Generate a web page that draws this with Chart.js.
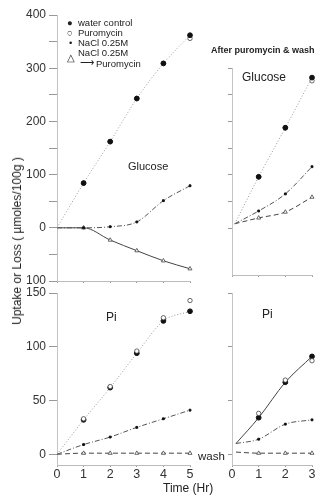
<!DOCTYPE html>
<html>
<head>
<meta charset="utf-8">
<script src="https://cdn.jsdelivr.net/npm/chart.js@4.4.1/dist/chart.umd.min.js"></script>
<style>
  html, body { margin: 0; padding: 0; background: #fff; }
  body { width: 323px; height: 496px; position: relative; overflow: hidden;
         font-family: "Liberation Sans", Arial, sans-serif; color: #222; }
  .box { position: absolute; }
  .txt { position: absolute; white-space: nowrap; line-height: 1; }
  .leg { font-size: 9.5px; }
</style>
</head>
<body>
<div class="box" style="left:0;top:0;width:200px;height:300px"><canvas id="gluLeft"></canvas></div>
<div class="box" style="left:0;top:280px;width:200px;height:216px"><canvas id="piLeft"></canvas></div>
<div class="box" style="left:200px;top:0;width:123px;height:290px"><canvas id="gluRight"></canvas></div>
<div class="box" style="left:200px;top:280px;width:123px;height:216px"><canvas id="piRight"></canvas></div>

<!-- legend -->
<div class="txt leg" style="left:67px;top:18px">●</div>
<div class="txt leg" style="left:78px;top:18px">water control</div>
<div class="txt leg" style="left:67px;top:28px">○</div>
<div class="txt leg" style="left:78px;top:28px">Puromycin</div>
<div class="txt leg" style="left:69px;top:38px">•</div>
<div class="txt leg" style="left:78px;top:38px">NaCl 0.25M</div>
<div class="txt leg" style="left:67px;top:53px">△</div>
<div class="txt leg" style="left:78px;top:48px">NaCl 0.25M</div>
<div class="txt leg" style="left:80px;top:58px">⟶</div>
<div class="txt leg" style="left:96px;top:59px">Puromycin</div>

<div class="txt" style="left:128px;top:161px;font-size:11px">Glucose</div>
<div class="txt" style="left:211px;top:46px;font-size:9px;font-weight:bold">After puromycin &amp; wash</div>
<div class="txt" style="left:242px;top:71px;font-size:12px">Glucose</div>
<div class="txt" style="left:106px;top:311px;font-size:12px">Pi</div>
<div class="txt" style="left:262px;top:308px;font-size:12px">Pi</div>
<div class="txt" style="left:198px;top:451px;font-size:11.5px">wash</div>
<div class="txt" style="left:163px;top:482px;font-size:12px">Time (Hr)</div>
<div class="txt" style="left:17px;top:241px;font-size:12px;transform:translate(-50%,-50%) rotate(-90deg)">Uptake or Loss ( µmoles/100g )</div>

<script>
// time points
const hours = [0, 1, 2, 3, 4, 5];
const washGluHours = [0.1, 1, 2, 3];
const washPiHours = [0.15, 1, 2, 3];

// glucose, left panel (umoles/100g)
const gluWater = [0, 84, 162, 243, 309, 362];
const gluPuro = [0, 84, 162, 243, 309, 356];
const gluNacl = [0, 0, 2, 11, 51, 79];
const gluNaclPuro = [0, 0, -23, -43, -62, -77];

// Pi, left panel
const piWater = [0, 32, 62, 94, 124, 133];
const piPuro = [0, 33, 63, 96, 127, 143];
const piNacl = [0, 9, 16, 25, 33, 41];
const piNaclPuro = [0, 1, 1, 1, 1, 1];

// glucose, after puromycin & wash
const wGluWater = [8, 96, 188, 282];
const wGluPuro = [8, 96, 188, 276];
const wGluNacl = [8, 32, 64, 115];
const wGluNaclPuro = [8, 19, 30, 58];

// Pi, after puromycin & wash
const wPiWater = [10, 34, 67, 91];
const wPiPuro = [10, 38, 69, 87];
const wPiNacl = [10, 14, 28, 32];
const wPiNaclPuro = [2, 1, 1, 1];

// tick values
const gluTicks = [-100, -50, 0, 50, 100, 150, 200, 250, 300, 350, 400];
const gluWashTicks = [0, 50, 100, 150, 200, 250, 300];
const piTicks = [0, 50, 100, 150];
const leftHourTicks = [0, 1, 2, 3, 4, 5];
const rightHourTicks = [0, 1, 2, 3];

Chart.defaults.font.family = "'Liberation Sans', Arial, sans-serif";
Chart.defaults.color = "#333";

function pts(xs, ys) {
  return xs.map((x, i) => ({ x: x, y: ys[i] }));
}

// first point of each series is only the line origin
function radius(r) {
  return (ctx) => (ctx.dataIndex === 0 ? 0 : r);
}

function series(xs, ys, kind, order) {
  const base = {
    data: pts(xs, ys),
    borderWidth: 1,
    clip: false,
    cubicInterpolationMode: "monotone",
    order: order
  };
  if (kind === "water") {
    return Object.assign(base, {
      borderColor: "#999", borderDash: [1, 2],
      pointStyle: "circle", pointRadius: radius(2.4), pointBorderWidth: 1,
      pointBackgroundColor: "#111", pointBorderColor: "#111"
    });
  }
  if (kind === "puro") {
    return Object.assign(base, {
      showLine: false,
      pointStyle: "circle", pointRadius: radius(2.2), pointBorderWidth: 0.8,
      pointBackgroundColor: "#fff", pointBorderColor: "#444"
    });
  }
  if (kind === "nacl") {
    return Object.assign(base, {
      borderColor: "#555", borderDash: [5, 2, 1, 2],
      pointStyle: "rect", pointRadius: radius(1.3),
      pointBackgroundColor: "#111", pointBorderColor: "#111"
    });
  }
  return Object.assign(base, {
    borderColor: "#444", borderDash: kind === "triDash" ? [5, 3] : [],
    pointStyle: "triangle", pointRadius: radius(2.3), pointBorderWidth: 0.8,
    pointBackgroundColor: "#fff", pointBorderColor: "#444"
  });
}

function yAxis(min, max, ticks, width, labels) {
  return {
    min: min, max: max,
    afterBuildTicks: (s) => { s.ticks = ticks.map((v) => ({ value: v })); },
    afterFit: (s) => { s.width = width; },
    border: { color: "#c4c4c4", dash: [1, 4] },
    grid: { drawOnChartArea: false, tickLength: labels ? 8 : 4, color: "#999" },
    ticks: {
      display: labels, padding: 3, font: { size: 12 },
      callback: (v) => (v % 100 === 0 || v === 50 || v === 150 ? String(Math.abs(v)) : "")
    }
  };
}

function xAxis(max, ticks, height, labels) {
  return {
    type: "linear", min: 0, max: max,
    afterBuildTicks: (s) => { s.ticks = ticks.map((v) => ({ value: v })); },
    afterFit: (s) => { s.height = height; },
    border: { color: "#bbb", dash: [3, 4] },
    grid: { drawOnChartArea: false, tickLength: 2, color: "#999" },
    ticks: { display: labels, padding: 0, font: { size: 12.5 } }
  };
}

function panel(id, datasets, x, y, padding) {
  return new Chart(document.getElementById(id), {
    type: "line",
    data: { datasets: datasets },
    options: {
      responsive: true,
      maintainAspectRatio: false,
      animation: false,
      events: [],
      layout: { padding: padding },
      plugins: { legend: { display: false }, tooltip: { enabled: false } },
      scales: { x: x, y: y }
    }
  });
}

// glucose, left
const gluY = yAxis(-100, 400, gluTicks, 57, true);
gluY.ticks.callback = (v) => (v % 100 === 0 ? String(Math.abs(v)) : "");
panel("gluLeft", [
  series(hours, gluPuro, "puro", 4),
  series(hours, gluWater, "water", 1),
  series(hours, gluNacl, "nacl", 2),
  series(hours, gluNaclPuro, "tri", 3)
], xAxis(5, leftHourTicks, 19, false), gluY, { top: 15, right: 10, left: 0, bottom: 0 });

// Pi, left
const piY = yAxis(-10, 150, piTicks, 57, true);
panel("piLeft", [
  series(hours, piWater, "water", 2),
  series(hours, piPuro, "puro", 1),
  series(hours, piNacl, "nacl", 3),
  series(hours, piNaclPuro, "triDash", 4)
], xAxis(5, leftHourTicks, 31, true), piY, { top: 13, right: 10, left: 0, bottom: 0 });

// glucose, after wash
panel("gluRight", [
  series(washGluHours, wGluPuro, "puro", 2),
  series(washGluHours, wGluWater, "water", 1),
  series(washGluHours, wGluNacl, "nacl", 3),
  series(washGluHours, wGluNaclPuro, "triDash", 4)
], xAxis(3, rightHourTicks, 15, false), yAxis(-88, 300, gluWashTicks, 32, false),
  { top: 68, right: 11, left: 0, bottom: 0 });

// Pi, after wash
const wPiWaterSet = series(washPiHours, wPiWater, "water", 2);
wPiWaterSet.borderColor = "#444";
wPiWaterSet.borderDash = [];
panel("piRight", [
  wPiWaterSet,
  series(washPiHours, wPiPuro, "puro", 1),
  series(washPiHours, wPiNacl, "nacl", 3),
  series(washPiHours, wPiNaclPuro, "triDash", 4)
], xAxis(3, rightHourTicks, 31, true), yAxis(-10, 150, piTicks, 32, false),
  { top: 13, right: 11, left: 0, bottom: 0 });
</script>
</body>
</html>
